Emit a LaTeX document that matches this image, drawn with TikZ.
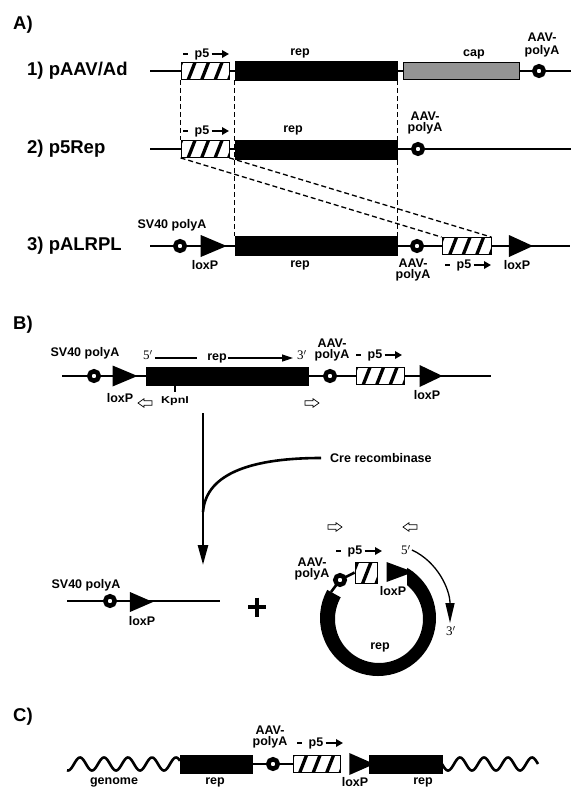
\documentclass[tikz,border=0pt]{standalone}
\usepackage{fontspec}
\usepackage{graphicx}
\setmainfont{Liberation Sans}
\newfontfamily\seriffont{Liberation Serif}
\usetikzlibrary{shapes.geometric,arrows.meta,calc}
\pgfdeclarelayer{bg}
\pgfsetlayers{bg,main}
\tikzset{
 dna/.style={line width=2.6pt},
 thinln/.style={line width=1.1pt},
 repbox/.style={rectangle, fill=black, draw=black, line width=0.5pt, minimum height=18pt, inner sep=0},
 capbox/.style={rectangle, fill=black!42, draw=black, line width=0.8pt, minimum height=17pt, inner sep=0},
 hatchbox/.style={rectangle, draw=black, line width=0.8pt, fill=white, minimum height=17pt, inner sep=0,
   path picture={\foreach \k in {-4,...,4}{\draw[line width=3.3pt] ($(path picture bounding box.south)+(\k*13.5-4,2)$) -- ++(9,-23);}}},
 polya/.style={circle, draw=black, line width=4.5pt, fill=white, minimum size=9.5pt, inner sep=0},
 lox/.style={isosceles triangle, isosceles triangle stretches, fill=black, inner sep=0},
 lbl/.style={font=\bfseries\fontsize{12.5}{11.5}\selectfont, inner sep=0, align=center},
 big/.style={font=\bfseries\fontsize{18.5}{20}\selectfont, inner sep=0, anchor=west},
 prime/.style={font=\seriffont\fontsize{13}{13}\selectfont, inner sep=0},
 dashln/.style={line width=1.3pt, dash pattern=on 5pt off 3pt},
 openarrow/.pic={\draw[line width=0.7pt, fill=white] (-7,-2.2) -- (1,-2.2) -- (1,-4.3) -- (7,0) -- (1,4.3) -- (1,2.2) -- (-7,2.2) -- cycle;},
}
\newcommand{\pfivelabel}[3]{%
  \node[lbl] (#1) at (#2,#3) {p5};
  \draw[line width=2.8pt] ([xshift=-19pt]#1.center) -- ([xshift=-14pt]#1.center);
  \draw[line width=2.4pt,-{Triangle[length=7pt,width=7.5pt]}] ([xshift=9.5pt]#1.center) -- ([xshift=27pt]#1.center);
}
\begin{document}
\begin{tikzpicture}[x=1pt,y=-1pt]
\useasboundingbox (0,0) rectangle (581,795);
% ---------------- Panel A
\node[big] (A) at (13,25) {A)};
\node[big] (n1) at (27,71) {1) pAAV/Ad};
\node[big] (n2) at (27,149) {2) p5Rep};
\node[big] (n3) at (27,246) {3) pALRPL};
% row 1
\coordinate (s1) at (150,71); \coordinate (e1) at (571,71);
\node[hatchbox, minimum width=48pt] (h1) at (205,71) {};
\node[repbox, minimum width=162pt, minimum height=19pt] (r1) at (316,70.5) {};
\node[capbox, minimum width=116pt] (c1) at (461,71) {};
\node[polya] (pa1) at (539,71) {};
\pfivelabel{p51}{202}{54}
\node[lbl] (rep1) at (300,53) {rep};
\node[lbl] (cap1) at (474,54) {cap};
\node[lbl] (aav1) at (542,45) {AAV-\\[1.5pt]polyA};
% row 2
\coordinate (s2) at (150,149); \coordinate (e2) at (571,149);
\node[hatchbox, minimum width=48pt] (h2) at (205,149) {};
\node[repbox, minimum width=162pt, minimum height=19pt] (r2) at (316,149.5) {};
\node[polya] (pa2) at (418,149) {};
\pfivelabel{p52}{202}{131}
\node[lbl] (rep2) at (293,130) {rep};
\node[lbl] (aav2) at (425,123) {AAV-\\polyA};
% row 3
\coordinate (s3) at (150,246); \coordinate (e3) at (570,246);
\node[polya] (sv3) at (180,246) {};
\node[lox, minimum height=26pt, minimum width=22pt] (lx3a) at (208,246) {};
\node[repbox, minimum width=162pt, minimum height=19pt] (r3) at (316,245.5) {};
\node[polya] (pa3) at (417,246) {};
\node[hatchbox, minimum width=49pt] (h3) at (466.5,246) {};
\node[lox, minimum height=24pt, minimum width=22pt] (lx3b) at (516,246) {};
\node[lbl] (svl3) at (172,225) {SV40 polyA};
\node[lbl] (lxl3a) at (205,265) {loxP};
\node[lbl] (rep3) at (300,265) {rep};
\node[lbl] (aav3) at (413,270) {AAV-\\polyA};
\pfivelabel{p53}{464}{265}
\node[lbl] (lxl3b) at (517,265) {loxP};
\begin{pgfonlayer}{bg}
\draw[dna] (s1) -- (e1);
\draw[dna] (s2) -- (e2);
\draw[dna] (s3) -- (e3);
\draw[dashln] (h1.south west) -- (h2.north west);
\draw[dashln] (r1.south west) -- (r3.north west);
\draw[dashln] (r1.south east) -- (r3.north east);
\draw[dashln] (h2.south west) -- (h3.north west);
\draw[dashln] (h2.south east) -- (h3.north east);
\end{pgfonlayer}
% ---------------- Panel B
\node[big] (B) at (13,325) {B)};
\coordinate (sB) at (62,376); \coordinate (eB) at (491,376);
\node[polya] (svB) at (94,376) {};
\node[lox, minimum height=25pt, minimum width=21pt] (lxB1) at (119.5,376) {};
\node[repbox, minimum width=162pt] (rB) at (227,376) {};
\node[polya] (paB) at (330,376) {};
\node[hatchbox, minimum width=48pt] (hB) at (380,376) {};
\node[lox, minimum height=23pt, minimum width=22pt] (lxB2) at (426.5,376) {};
\node[lbl] (svlB) at (85,353) {SV40 polyA};
\node[prime] (fiveB) at (148,355) {5$'$};
\node[lbl] (replB) at (217,358) {rep};
\node[prime] (threeB) at (302,355) {3$'$};
\draw[thinln] (fiveB.east |- replB.west) ++(2,0) -- ([xshift=-10pt]replB.west);
\draw[thinln, -{Triangle[length=11pt,width=7pt]}] ([xshift=1pt]replB.east) -- ([xshift=-4pt]threeB.west |- replB.east);
\node[lbl] (aavB) at (332,350) {AAV-\\polyA};
\pfivelabel{p5B}{375}{355}
\node[lbl] (lxlB1) at (120,398) {loxP};
\node[lbl] (lxlB2) at (427,395) {loxP};
\coordinate (kp) at (175,385);
\draw[thinln] (kp) -- ++(0,7);
\node[font=\bfseries\fontsize{10}{10}\selectfont, inner sep=0] (kpn) at (175,401) {\scalebox{1.25}[1]{KpnI}};
\pic[rotate=180] (oa1) at (145,403) {openarrow};
\pic (oa2) at (312,403) {openarrow};
\begin{pgfonlayer}{bg}
\draw[dna] (sB) -- (eB);
\end{pgfonlayer}
% vertical arrow and Cre
\coordinate (vtop) at (203,413); \coordinate (vbot) at (203,565);
\draw[dna, -{Triangle[length=20pt,width=10pt]}] (vtop) -- (vbot);
\node[lbl, anchor=west] (cre) at (330,458) {Cre recombinase};
\coordinate (cj) at (203,512);
\draw[dna] (cj) .. controls (206,472) and (255,458) .. ([xshift=-9pt]cre.west);
% bottom-left product
\coordinate (sL) at (67,601); \coordinate (eL) at (220,601);
\begin{pgfonlayer}{bg}\draw[dna] (sL) -- (eL);\end{pgfonlayer}
\node[polya] (svL) at (110,601) {};
\node[lox, minimum height=23pt, minimum width=20pt] (lxL) at (136.5,602) {};
\node[lbl] (svlL) at (86,585) {SV40 polyA};
\node[lbl] (lxlL) at (142,621) {loxP};
\draw[line width=4.8pt] (248,607) -- (266,607) (257,597.5) -- (257,616.5);
% plasmid
\coordinate (pc) at (378,618);
\begin{scope}
\clip (407,530) -- (470,530) -- (470,700) -- (290,700) -- (290.5,569.5) -- (pc) -- (407,600) -- cycle;
\fill[even odd rule] (pc) circle[radius=58] (379,619) circle[radius=44];
\end{scope}
\coordinate (re) at (331,592);
\node[polya] (paP) at (340,580) {};
\node[hatchbox, minimum width=22pt, minimum height=21pt] (hP) at (366,572.5) {};
\node[lox, minimum height=27pt, minimum width=20pt] (lxP) at (393.5,572) {};
\begin{pgfonlayer}{bg}
\draw[dna] (re) -- (paP.center) -- (hP.west);
\end{pgfonlayer}
\pfivelabel{p5P}{355}{551}
\node[lbl] (aavP) at (312,569) {AAV-\\polyA};
\node[lbl] (lxlP) at (393,591) {loxP};
\node[lbl] (repP) at (380,647) {rep};
\node[prime] (fiveP) at (406,550) {5$'$};
\node[prime] (threeP) at (451,631) {3$'$};
\coordinate (tipP) at (450,623);
\draw[line width=1.3pt, -{Triangle[length=20pt,width=9pt]}] ([xshift=1pt]fiveP.east) .. controls (438,562) and (450,590) .. (tipP);
\pic (oa3) at (335,527) {openarrow};
\pic[rotate=180] (oa4) at (410,527) {openarrow};
% ---------------- Panel C
\node[big] (C) at (13,717) {C)};
\draw[dna, domain=67:180, samples=120, smooth] plot (\x, {764+6.5*cos(15*(\x-68))});
\draw[dna, domain=442:538, samples=120, smooth] plot (\x, {764+6.5*cos(15*(\x-448))});
\node[repbox, minimum width=72pt] (rC1) at (216,764) {};
\node[polya] (paC) at (273,764) {};
\node[hatchbox, minimum width=47pt] (hC) at (316.5,764) {};
\node[lox, minimum height=25pt, minimum width=22pt] (lxC) at (356.5,764) {};
\node[repbox, minimum width=73pt] (rC2) at (405.5,764) {};
\begin{pgfonlayer}{bg}\draw[dna] (rC1.east) -- (hC.west);\end{pgfonlayer}
\node[lbl] (gen) at (114,782) {genome};
\node[lbl] (repC1) at (215,782) {rep};
\node[lbl] (aavC) at (270,737) {AAV-\\polyA};
\pfivelabel{p5C}{316}{743}
\node[lbl] (lxlC) at (355,782) {loxP};
\node[lbl] (repC2) at (423,782) {rep};
\end{tikzpicture}
\end{document}
